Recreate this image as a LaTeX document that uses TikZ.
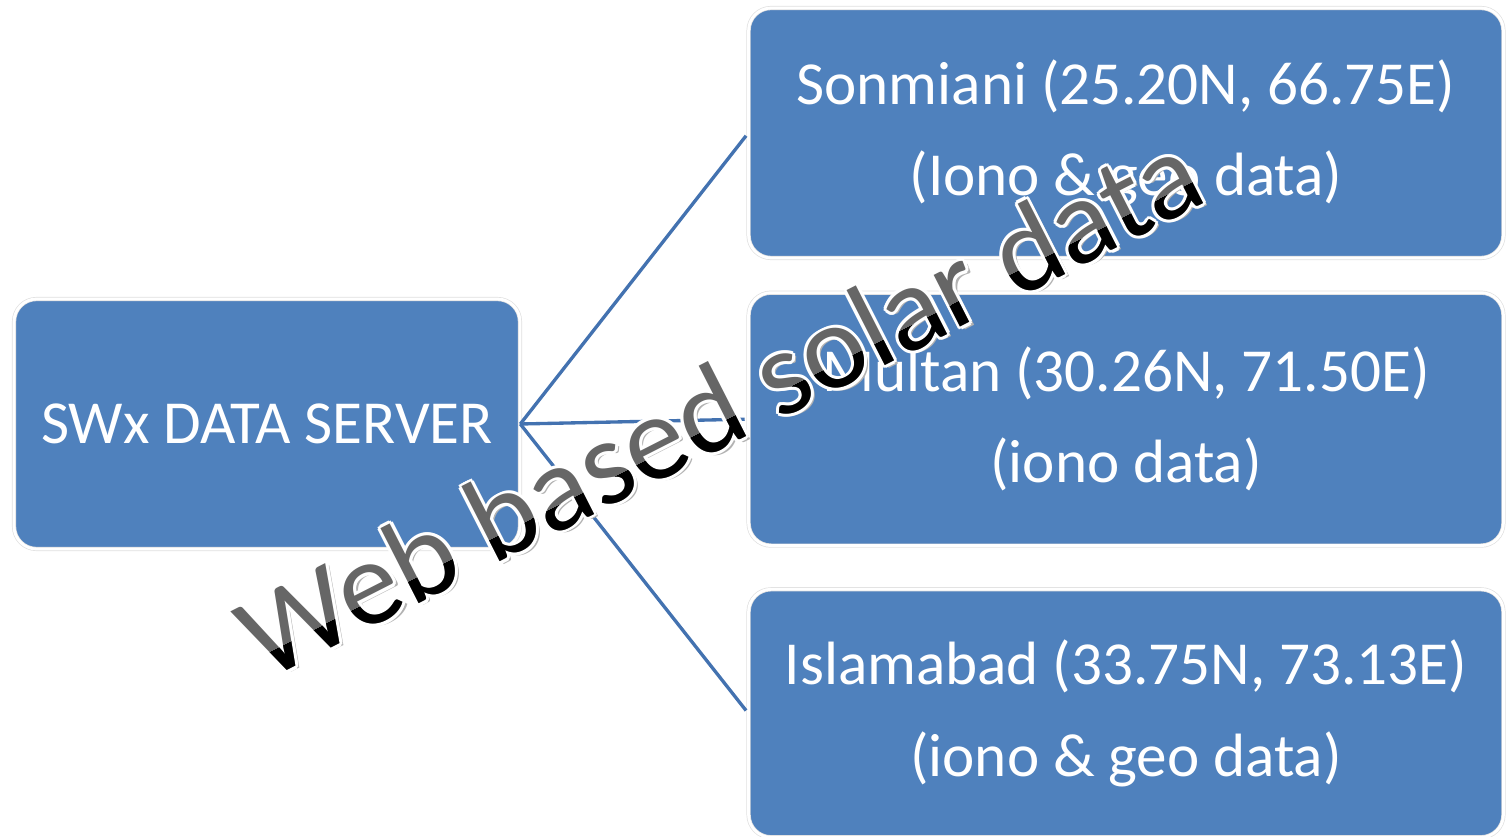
\documentclass[tikz,border=0pt]{standalone}
\usepackage{fontspec}
\setmainfont{Carlito}
\usetikzlibrary{positioning}
\definecolor{boxblue}{HTML}{4F81BD}
\definecolor{linkblue}{HTML}{4372B0}
\definecolor{wmgray}{HTML}{666666}

\begin{document}
\begin{tikzpicture}[
  x=0.02cm, y=-0.02cm,
  font=\fontsize{34.8}{52}\selectfont,
  box/.style={fill=boxblue, draw=black!12, double=white, double distance=1.6pt, rounded corners=0.45cm, text=white, align=center, inner sep=0pt},
  server/.style={box, minimum width=10.12cm, minimum height=5.0cm},
  site/.style={box, minimum width=15.1cm, minimum height=5.0cm},
  link/.style={draw=linkblue, line width=1.9pt, shorten >=2pt},
  wm/.style={font=\fontsize{69}{80}\selectfont, anchor=base, inner sep=0pt, transform shape},
]
  \useasboundingbox (0,0) rectangle (1507,837);

  \node[server] (srv) at (267,424) {SWx DATA SERVER};
  \node[site] (son) at (1126,133) {Sonmiani (25.20N, 66.75E)\\(Iono \& geo data)};
  \node[site, minimum height=5.06cm, below=0.68cm of son] (mul) {Multan (30.26N, 71.50E)\\(iono data)};
  \node[site, minimum height=4.96cm, below=0.86cm of mul] (isl) {Islamabad (33.75N, 73.13E)\\(iono \& geo data)};

  \draw[link] (srv.east) -- (son.west);
  \draw[link] (srv.east) -- (mul.west);
  \draw[link] (srv.east) -- (isl.west);

  % watermark
  \begin{scope}[shift={(738,441)}, rotate=27, x=1pt, y=1pt]
    \node[wm, text=black!30] (wmshadow) at (1.5,-2.2) {Web based solar data};
    \foreach \a in {0,45,...,315}
      \node[wm, text=white] at (\a:1.8) {Web based solar data};
    \node[wm, text=wmgray] (wmark) at (0,0) {Web based solar data};
    \clip (-400,-25) rectangle (400,14);
    \node[wm, text=black] at (0,0) {Web based solar data};
  \end{scope}
\end{tikzpicture}
\end{document}
